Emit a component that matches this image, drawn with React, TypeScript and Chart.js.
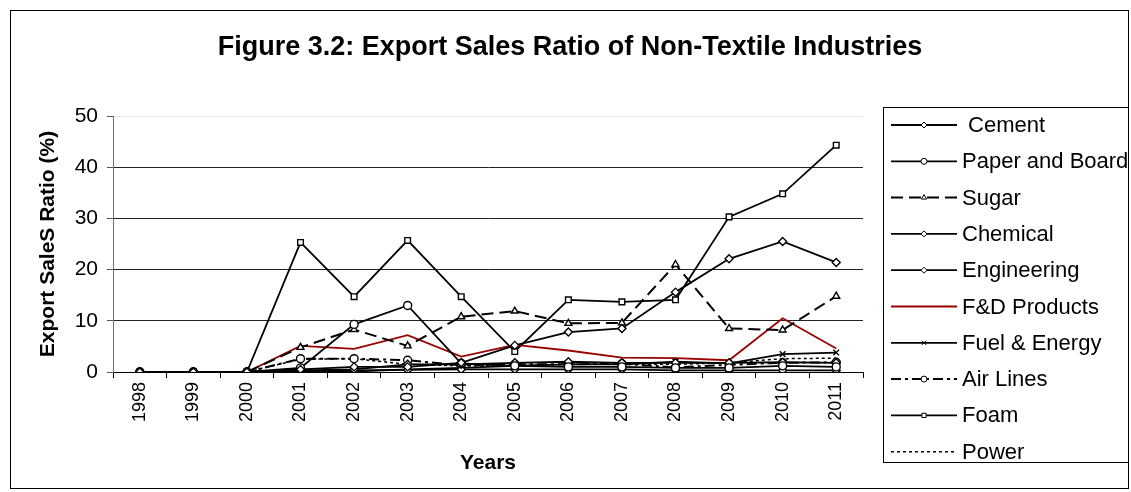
import React, { useEffect, useRef } from 'react';
import { Chart, registerables } from 'chart.js';
import { drawPoint } from 'chart.js/helpers';

Chart.register(...registerables);

const years = ['1998', '1999', '2000', '2001', '2002', '2003', '2004', '2005', '2006', '2007', '2008', '2009', '2010', '2011'];

const cement = [0, 0, 0, 0.5, 1.0, 1.0, 1.8, 5.2, 7.8, 8.5, 15.6, 22.1, 25.5, 21.4];
const paperBoard = [0, 0, 0, 0.8, 9.3, 13.0, 1.7, 1.2, 1.0, 1.0, 0.8, 0.8, 1.2, 1.0];
const sugar = [0, 0, 0, 4.8, 8.3, 5.1, 10.8, 11.9, 9.5, 9.6, 21.0, 8.5, 8.2, 14.8];
const chemical = [0, 0, 0, 0.3, 0.5, 1.5, 1.5, 1.8, 2.0, 1.8, 1.8, 1.8, 1.9, 1.8];
const engineering = [0, 0, 0, 0.2, 0.3, 0.4, 0.5, 0.5, 0.5, 0.5, 0.3, 0.3, 0.3, 0.3];
const fdProducts = [0, 0, 0, 5.1, 4.5, 7.2, 3.0, 5.3, 4.2, 2.8, 2.7, 2.3, 10.5, 4.6];
const fuelEnergy = [0, 0, 0, 0.2, 0.1, 0.5, 0.8, 1.2, 1.5, 1.5, 2.0, 1.7, 3.5, 3.8];
const airLines = [0, 0, 0, 2.6, 2.6, 2.3, 1.3, 1.5, 1.5, 1.6, 0.9, 1.4, 1.8, 1.9];
const foam = [0, 0, 0, 25.3, 14.7, 25.7, 14.7, 4.0, 14.1, 13.7, 14.1, 30.3, 34.8, 44.3];
const power = [0, 0, 0, 2.5, 2.6, 1.5, 1.2, 1.2, 1.5, 1.5, 1.5, 1.8, 2.6, 2.7];

const yTicks = [0, 10, 20, 30, 40, 50];

const FONT = '"Liberation Sans", Arial, sans-serif';
const TITLE = 'Figure 3.2: Export Sales Ratio of Non-Textile Industries';

const mk = (label: string, data: number[], pointStyle: any, dash: number[], color = '#000', width = 1.8) => ({
  label,
  data,
  borderColor: color,
  backgroundColor: '#fff',
  borderWidth: width,
  borderDash: dash,
  pointStyle,
  pointRadius: pointStyle ? 4 : 0,
  pointBorderWidth: 1.4,
  pointBorderColor: '#000',
  pointBackgroundColor: '#fff',
  tension: 0,
  fill: false,
});

const framePlugin = {
  id: 'frame',
  afterDraw(chart: any) {
    const { ctx } = chart;
    ctx.save();
    ctx.strokeStyle = '#000';
    ctx.lineWidth = 1;
    ctx.setLineDash([]);
    ctx.strokeRect(10.5, 10.5, 1118, 478);
    ctx.fillStyle = '#000';
    ctx.font = `bold 27px ${FONT}`;
    ctx.textAlign = 'center';
    ctx.textBaseline = 'middle';
    ctx.fillText(TITLE, 570, 48);
    const x0 = 883.5, y0 = 107.5, x1 = 1128.5, y1 = 462.5;
    ctx.strokeRect(x0, y0, x1 - x0, y1 - y0);
    ctx.font = `22px ${FONT}`;
    ctx.textAlign = 'left';
    chart.data.datasets.forEach((ds: any, i: number) => {
      const cy = 125 + i * 36.3;
      ctx.save();
      ctx.strokeStyle = ds.borderColor;
      ctx.lineWidth = ds.borderWidth;
      ctx.setLineDash(ds.borderDash || []);
      ctx.beginPath();
      ctx.moveTo(891, cy);
      ctx.lineTo(957, cy);
      ctx.stroke();
      ctx.restore();
      if (ds.pointStyle) {
        ctx.save();
        ctx.strokeStyle = '#000';
        ctx.fillStyle = '#fff';
        ctx.lineWidth = 1;
        ctx.setLineDash([]);
        drawPoint(ctx, { pointStyle: ds.pointStyle, radius: 3, borderWidth: 1, rotation: 0 } as any, 924, cy);
        ctx.restore();
      }
      ctx.fillStyle = '#000';
      ctx.fillText(ds.label, 962, cy + 1);
    });
    ctx.restore();
  },
};

export default function App() {
  const ref = useRef<HTMLCanvasElement>(null);
  useEffect(() => {
    document.documentElement.style.overflow = 'hidden';
    document.body.style.overflow = 'hidden';
    if (!ref.current) return;
    const chart = new Chart(ref.current, {
      type: 'line',
      data: {
        labels: years,
        datasets: [
          mk(' Cement', cement, 'rectRot', []),
          mk('Paper and Board', paperBoard, 'circle', []),
          mk('Sugar', sugar, 'triangle', [12, 6], '#000', 2),
          mk('Chemical', chemical, 'rectRot', []),
          mk('Engineering', engineering, 'rectRot', []),
          mk('F&D Products', fdProducts, false, [], '#990000', 1.8),
          mk('Fuel & Energy', fuelEnergy, 'crossRot', []),
          mk('Air Lines', airLines, 'circle', [10, 4, 3, 4], '#000', 2),
          mk('Foam', foam, 'rect', []),
          mk('Power', power, false, [3, 3], '#000', 1.5),
        ] as any,
      },
      options: {
        responsive: false,
        animation: false,
        layout: { padding: { top: 116, right: 268, bottom: 0, left: 0 } },
        plugins: {
          legend: { display: false },
          title: { display: false },
          tooltip: { enabled: false },
        },
        scales: {
          x: {
            type: 'category',
            offset: true,
            afterFit: (s: any) => { s.height = 120; },
            grid: {
              offset: true,
              drawOnChartArea: false,
              drawTicks: true,
              tickLength: 6,
              tickColor: '#000',
            },
            border: { color: '#000', width: 1 },
            ticks: {
              autoSkip: false,
              minRotation: 90,
              maxRotation: 90,
              padding: 4,
              color: '#000',
              font: { family: FONT, size: 18 },
            },
            title: {
              display: true,
              text: 'Years',
              color: '#000',
              font: { family: FONT, size: 21, weight: 'bold' },
              padding: { top: 0, bottom: 16 },
            },
          },
          y: {
            min: 0,
            max: 50,
            afterFit: (s: any) => { s.width = 113; },
            afterBuildTicks: (s: any) => { s.ticks = yTicks.map((v) => ({ value: v })); },
            grid: {
              color: (c: any) => (c.tick && c.tick.value === 50 ? '#e6e6e6' : '#222'),
              tickColor: '#555',
              tickLength: 6,
              lineWidth: 1,
            },
            border: { color: '#707070', width: 1 },
            ticks: {
              padding: 9,
              color: '#000',
              font: { family: FONT, size: 21 },
            },
            title: {
              display: true,
              text: 'Export SaleS Ratio (%)',
              color: '#000',
              font: { family: FONT, size: 21, weight: 'bold' },
              padding: { top: 36, bottom: 0 },
            },
          },
        },
      } as any,
      plugins: [framePlugin],
    });
    return () => chart.destroy();
  }, []);
  return (
    <canvas
      ref={ref}
      width={1131}
      height={492}
      style={{ display: 'block', position: 'fixed', left: 0, top: 0 }}
    />
  );
}
